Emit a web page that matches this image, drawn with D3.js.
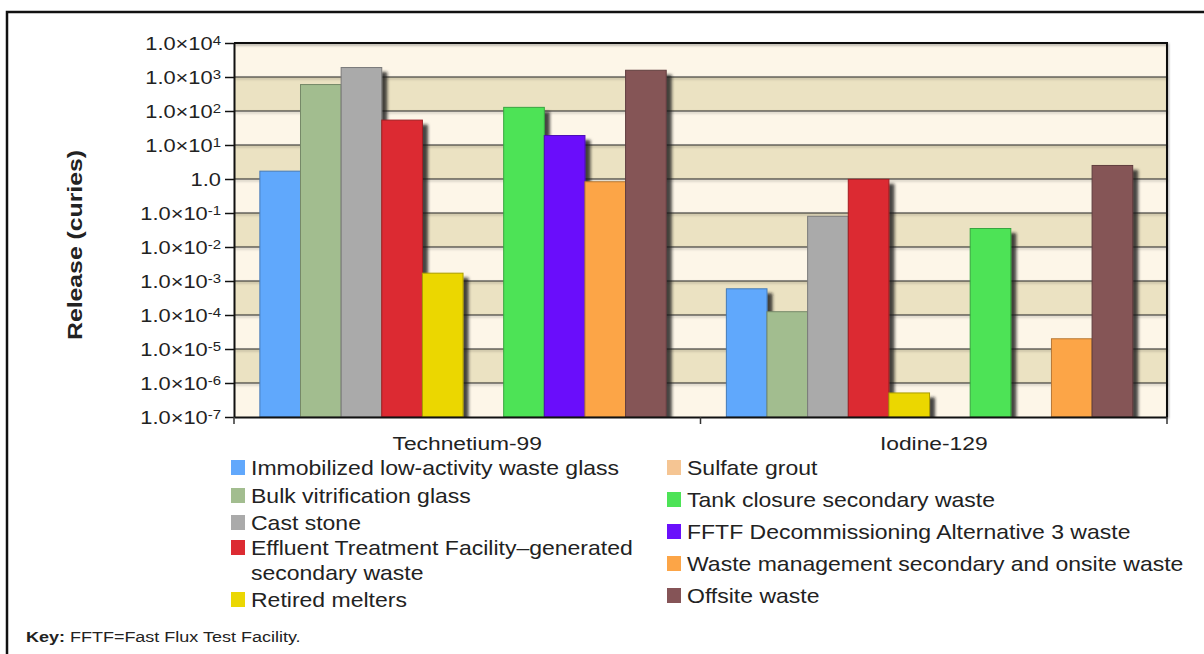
<!DOCTYPE html>
<html><head><meta charset="utf-8">
<script src="https://cdn.jsdelivr.net/npm/d3@7"></script>
<style>
html,body{margin:0;padding:0;background:#fff;}
svg text{font-family:"Liberation Sans",Arial,sans-serif;fill:#222;}
</style></head>
<body>
<svg id="chart" width="1204" height="654"></svg>
<script>
const categories = ["Technetium-99", "Iodine-129"];
const seriesNames = [
  "Immobilized low-activity waste glass",
  "Bulk vitrification glass",
  "Cast stone",
  "Effluent Treatment Facility\u2013generated secondary waste",
  "Retired melters",
  "Sulfate grout",
  "Tank closure secondary waste",
  "FFTF Decommissioning Alternative 3 waste",
  "Waste management secondary and onsite waste",
  "Offsite waste"
];
const seriesColors = ["#61a8fc","#a2bd8f","#aaaaaa","#dc2b32","#ebd703","#f5c593","#4de357","#6a10fb","#fca547","#855457"];
// values per series: [Technetium-99, Iodine-129] (curies); null = no bar
const immobilizedLAW = [1.7, 5.9e-4];
const bulkVitrification = [600, 1.25e-4];
const castStone = [1900, 0.08];
const effluentTreatment = [54, 0.98];
const retiredMelters = [1.7e-3, 5.1e-7];
const sulfateGrout = [null, null];
const tankClosure = [128, 0.035];
const fftfDecommissioning = [19, null];
const wasteManagement = [0.83, 2.0e-5];
const offsiteWaste = [1580, 2.5];
const seriesValues = [immobilizedLAW, bulkVitrification, castStone, effluentTreatment, retiredMelters,
  sulfateGrout, tankClosure, fftfDecommissioning, wasteManagement, offsiteWaste];
const tickExponents = [4,3,2,1,0,-1,-2,-3,-4,-5,-6,-7];
const yAxisTitle = "Release (curies)";
const keyLabel = "Key:";
const keyText = " FFTF=Fast Flux Test Facility.";

const svg = d3.select("#chart");
const L = 234, R = 1167, T = 43, B = 417;

// outer frame
svg.append("path").attr("d","M7,660 L7,12 L1210,12").attr("fill","none").attr("stroke","#111").attr("stroke-width",2.5);

const x0 = d3.scaleBand().domain(categories).range([L, R]).padding(0);
const x1 = d3.scaleBand().domain(d3.range(seriesNames.length)).range([0, x0.bandwidth()])
  .paddingInner(0).paddingOuter(0.74).align(0.43);
const y = d3.scaleLog().domain([1e-7, 1e4]).range([B, T]);

const defs = svg.append("defs");
const f = defs.append("filter").attr("id","shadow").attr("x","-20%").attr("y","-20%").attr("width","160%").attr("height","160%");
f.append("feDropShadow").attr("dx",5).attr("dy",5).attr("stdDeviation",1.6).attr("flood-color","#1a1a1a").attr("flood-opacity",0.8);
defs.append("clipPath").attr("id","plotclip").append("rect").attr("x",L).attr("y",T-10).attr("width",R-L).attr("height",B-T+10);
const fg = defs.append("filter").attr("id","gshadow").attr("x","-5%").attr("y","-5%").attr("width","110%").attr("height","110%");
fg.append("feDropShadow").attr("dx",1).attr("dy",1.5).attr("stdDeviation",0.8).attr("flood-color","#000").attr("flood-opacity",0.35);

// bands
const decades = d3.range(-7, 4);
svg.append("g").selectAll("rect").data(decades).join("rect")
  .attr("x", L).attr("width", R - L)
  .attr("y", d => y(Math.pow(10, d + 1)))
  .attr("height", d => y(Math.pow(10, d)) - y(Math.pow(10, d + 1)))
  .attr("fill", d => ((d + 7) % 2 === 0) ? "#fdf6e8" : "#ebe2c2");

// gridlines
svg.append("g").attr("filter","url(#gshadow)").selectAll("line").data(tickExponents.filter(e => e < 4 && e > -7)).join("line")
  .attr("x1", L).attr("x2", R)
  .attr("y1", e => y(Math.pow(10, e))).attr("y2", e => y(Math.pow(10, e)))
  .attr("stroke", "#1e1e1e").attr("stroke-width", 1.2);

// bars
const barsG = svg.append("g").attr("clip-path","url(#plotclip)");
categories.forEach((cat, ci) => {
  seriesValues.forEach((vals, si) => {
    const v = vals[ci];
    if (v == null) return;
    barsG.append("rect")
      .attr("x", x0(cat) + x1(si))
      .attr("width", x1.bandwidth())
      .attr("y", y(v))
      .attr("height", B - y(v))
      .attr("fill", seriesColors[si])
      .attr("stroke", d3.color(seriesColors[si]).darker(0.9))
      .attr("stroke-width", 1)
      .attr("filter", "url(#shadow)");
  });
});

// plot frame
svg.append("path").attr("d",`M${L},${T} L${R},${T} L${R},${B}`).attr("fill","none").attr("stroke","#111").attr("stroke-width",2).attr("filter","url(#gshadow)");

// y axis
const yAxis = d3.axisLeft(y).tickValues(tickExponents.map(e => Math.pow(10, e))).tickSize(9).tickSizeOuter(0).tickFormat("");
const ya = svg.append("g").attr("transform", `translate(${L},0)`).call(yAxis);
ya.select(".domain").attr("stroke","#111").attr("stroke-width",2);
ya.selectAll(".tick line").attr("stroke","#111").attr("stroke-width",1.5);
ya.selectAll(".tick").each(function(d) {
  const e = Math.round(Math.log10(d));
  const t = d3.select(this).append("text").attr("x", 0).attr("dy", "0.36em")
    .attr("transform","translate(-13,0) scale(1.15,1)")
    .attr("text-anchor","end").style("font-size","19px").attr("fill","#222");
  if (e === 0) { t.text("1.0"); }
  else {
    t.append("tspan").text("1.0\u00d710");
    t.append("tspan").attr("dy","-0.45em").style("font-size","13px").text(e);
  }
});

// x axis
const xa = svg.append("g").attr("transform", `translate(0,${B})`)
  .call(d3.axisBottom(x0).tickSize(0).tickSizeOuter(0));
xa.select(".domain").attr("stroke","#111").attr("stroke-width",2);
xa.selectAll(".tick text").attr("dy", null).attr("y", 0)
  .attr("transform","translate(0,33) scale(1.2,1)")
  .style("font-size","19px").attr("fill","#222");
const xTicks = [L, x0(categories[1]), R];
svg.append("g").selectAll("line").data(xTicks).join("line")
  .attr("x1", d => d).attr("x2", d => d).attr("y1", B).attr("y2", B + 7)
  .attr("stroke","#333").attr("stroke-width",1.5);

// y title
svg.append("text").attr("transform", `translate(82,${(T + B) / 2 + 15}) rotate(-90) scale(1.18,1)`)
  .attr("text-anchor","middle").style("font-size","21px").style("font-weight","bold").attr("fill","#222").text(yAxisTitle);

// legend
const legendRows = [
  {si:0, x:231, y:468}, {si:1, x:231, y:496}, {si:2, x:231, y:523}, {si:3, x:231, y:548}, {si:4, x:231, y:600},
  {si:5, x:667, y:468}, {si:6, x:667, y:500}, {si:7, x:667, y:532}, {si:8, x:667, y:564}, {si:9, x:667, y:596}
];
const lg = svg.append("g");
legendRows.forEach(r => {
  lg.append("rect").attr("x", r.x).attr("y", r.y - 8).attr("width", 14).attr("height", 15).attr("fill", seriesColors[r.si]);
  const name = seriesNames[r.si];
  const t = lg.append("text").attr("x", 0).attr("y", 0).attr("dy","0.35em")
    .attr("transform", `translate(${r.x + 20},${r.y}) scale(1.15,1)`)
    .style("font-size","20px").attr("fill","#222");
  if (r.si === 3) {
    t.append("tspan").text("Effluent Treatment Facility\u2013generated");
    t.append("tspan").attr("x", 0).attr("dy", "1.25em").text("secondary waste");
  } else t.text(name);
});

// key
const kt = svg.append("text").attr("x", 0).attr("y", 0)
  .attr("transform","translate(26,642) scale(1.2,1)")
  .style("font-size","15px").attr("fill","#222");
kt.append("tspan").style("font-weight","bold").text(keyLabel);
kt.append("tspan").text(keyText);
</script>
</body></html>
